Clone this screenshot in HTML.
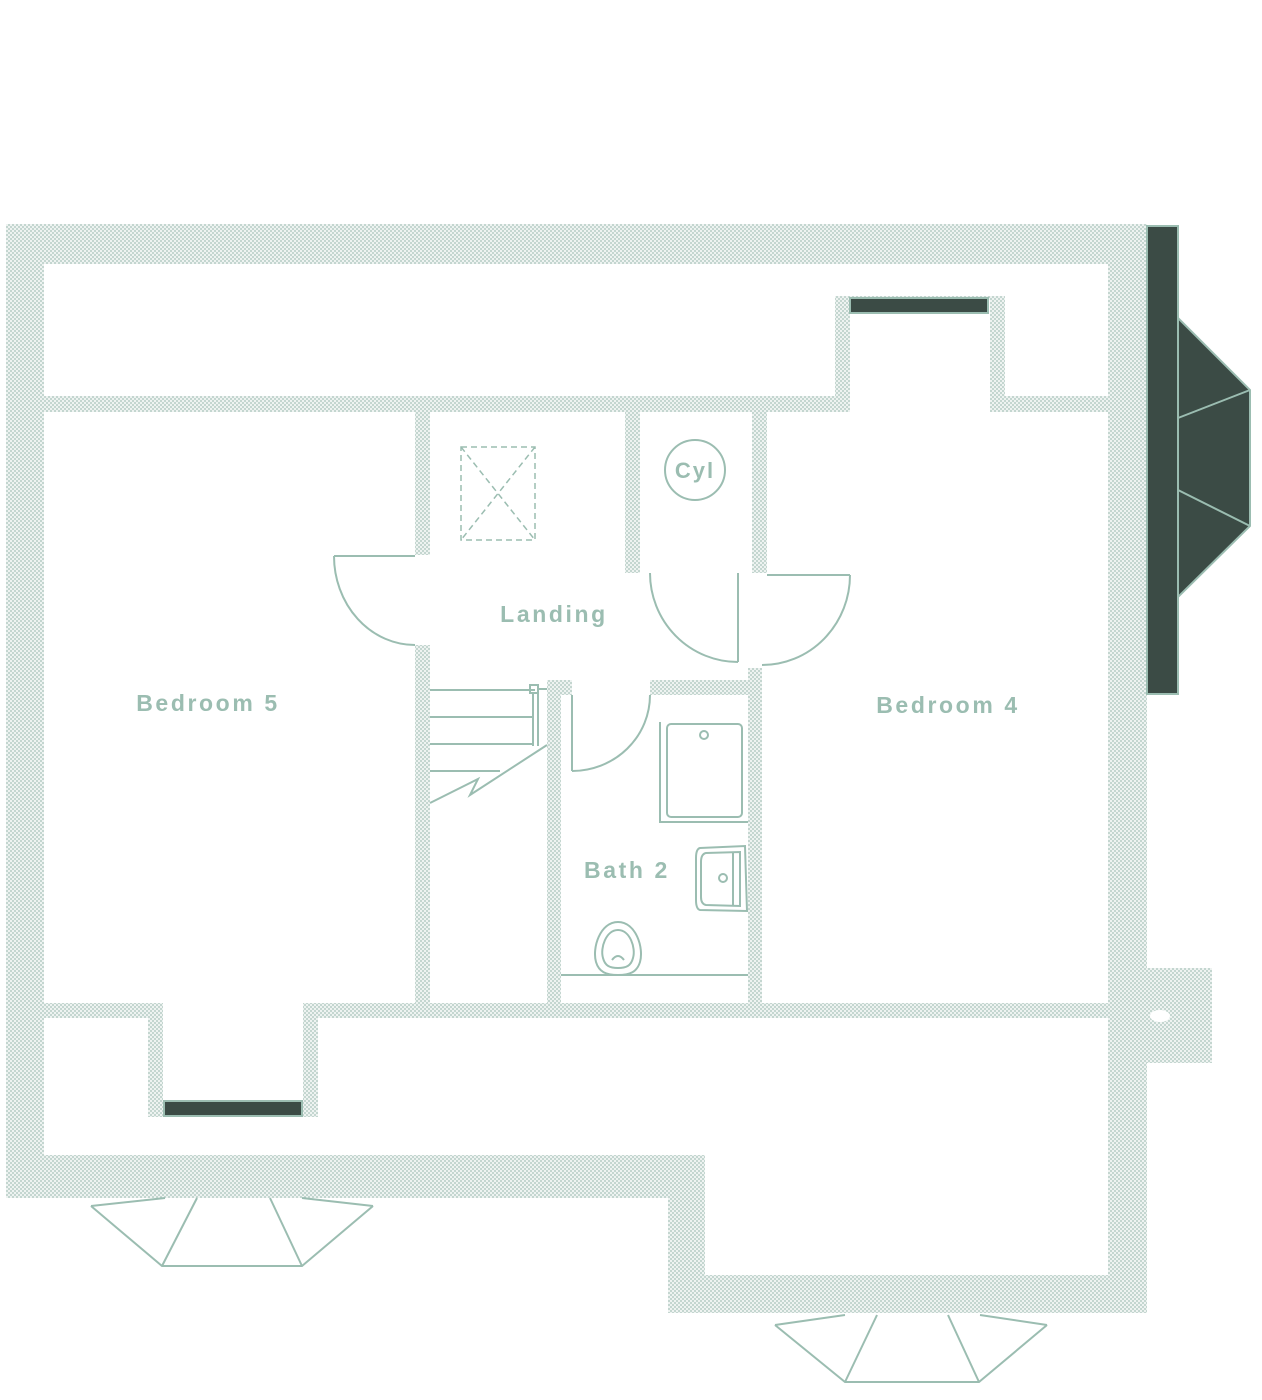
<!DOCTYPE html>
<html><head><meta charset="utf-8"><style>
html,body{margin:0;padding:0;background:#fff;}
svg{display:block}
text{font-family:"Liberation Sans",sans-serif;font-weight:bold;fill:#9bbdb1;font-size:23px;letter-spacing:2.6px;text-anchor:middle}
</style></head><body>
<svg width="1262" height="1400" viewBox="0 0 1262 1400" xmlns="http://www.w3.org/2000/svg">
<defs>
<pattern id="d" width="4" height="4" patternUnits="userSpaceOnUse">
<rect width="4" height="4" fill="#eef3f1"/>
<circle cx="1" cy="1" r="0.9" fill="#a6c2b8"/>
<circle cx="3" cy="3" r="0.9" fill="#a6c2b8"/>
</pattern>
</defs>
<g fill="url(#d)">
<rect x="6" y="224" width="1141" height="40"/>
<rect x="6" y="224" width="38" height="974"/>
<rect x="1108" y="224" width="39" height="1089"/>
<rect x="44" y="396" width="806" height="16"/>
<rect x="835" y="296" width="15" height="116"/>
<rect x="835" y="296" width="170" height="4"/>
<rect x="990" y="296" width="15" height="116"/>
<rect x="990" y="396" width="118" height="16"/>
<rect x="415" y="412" width="15" height="143"/>
<rect x="415" y="645" width="15" height="358"/>
<rect x="625" y="412" width="15" height="161"/>
<rect x="752" y="412" width="15" height="161"/>
<rect x="547" y="680" width="14" height="323"/>
<rect x="547" y="680" width="25" height="15"/>
<rect x="650" y="680" width="112" height="15"/>
<rect x="748" y="668" width="14" height="335"/>
<rect x="44" y="1003" width="119" height="15"/>
<rect x="303" y="1003" width="805" height="15"/>
<rect x="148" y="1003" width="15" height="114"/>
<rect x="303" y="1003" width="15" height="114"/>
<rect x="6" y="1155" width="699" height="43"/>
<rect x="668" y="1155" width="37" height="158"/>
<rect x="668" y="1275" width="479" height="38"/>
<rect x="1147" y="968" width="65" height="95"/>
</g>
<ellipse cx="1160" cy="1016" rx="10" ry="6" fill="#fff"/>
<g fill="#3b4b45" stroke="#9bbdb1" stroke-width="2">
<rect x="850" y="298" width="138" height="15"/>
<rect x="164" y="1101" width="138" height="15"/>
<rect x="1147" y="226" width="31" height="468"/>
<polygon points="1178,318 1250,390 1250,526 1178,597"/>
</g>
<g fill="none" stroke="#9bbdb1" stroke-width="2">
<line x1="1178" y1="418" x2="1250" y2="390"/>
<line x1="1178" y1="490" x2="1250" y2="526"/>
<polyline points="91,1206 162,1266 302,1266 373,1206"/>
<line x1="91" y1="1206" x2="165" y2="1198"/>
<line x1="197" y1="1198" x2="162" y2="1266"/>
<line x1="270" y1="1198" x2="302" y2="1266"/>
<line x1="302" y1="1198" x2="373" y2="1206"/>
<polyline points="775,1325 845,1382 979,1382 1047,1325"/>
<line x1="775" y1="1325" x2="845" y2="1315"/>
<line x1="877" y1="1315" x2="845" y2="1382"/>
<line x1="948" y1="1315" x2="979" y2="1382"/>
<line x1="980" y1="1315" x2="1047" y2="1325"/>
<line x1="334" y1="556" x2="415" y2="556"/>
<path d="M334,556 A81,89 0 0 0 415,645"/>
<line x1="738" y1="573" x2="738" y2="662"/>
<path d="M650,573 A88,89 0 0 0 738,662"/>
<line x1="767" y1="575" x2="850" y2="575"/>
<path d="M850,575 A88,90 0 0 1 762,665"/>
<line x1="572" y1="695" x2="572" y2="771"/>
<path d="M650,695 A78,76 0 0 1 572,771"/>
<line x1="430" y1="690" x2="535" y2="690"/>
<line x1="430" y1="717" x2="533" y2="717"/>
<line x1="430" y1="744" x2="533" y2="744"/>
<line x1="430" y1="771" x2="500" y2="771"/>
<line x1="533" y1="694" x2="533" y2="746"/>
<line x1="538" y1="694" x2="538" y2="746"/>
<rect x="530" y="685" width="8" height="8"/>
<line x1="538" y1="689" x2="547" y2="689"/>
<polyline points="430,803 478,779 470,795 547,745"/>
<g stroke-dasharray="6,4" stroke-width="1.5">
<rect x="461" y="447" width="74" height="93"/>
<line x1="461" y1="447" x2="535" y2="540"/>
<line x1="535" y1="447" x2="461" y2="540"/>
</g>
<circle cx="695" cy="470" r="30"/>
<polyline points="660,722 660,822 748,822"/>
<rect x="667" y="724" width="75" height="93" rx="4"/>
<circle cx="704" cy="735" r="4"/>
<path d="M700,848 L745,846 L747,911 L700,910 Q696,909 696,900 L696,858 Q696,849 700,848 Z"/>
<path d="M706,853 L740,852 L740,906 L706,905 Q701,904 701,897 L701,862 Q701,854 706,853 Z"/>
<line x1="733" y1="852" x2="733" y2="906"/>
<circle cx="723" cy="878" r="4"/>
<path d="M618,922 C600,922 592,948 596,962 C599,972 606,975 618,975 C630,975 637,972 640,962 C644,948 636,922 618,922 Z"/>
<path d="M618,930 C606,930 600,948 603,958 C605,966 610,968 618,968 C626,968 631,966 633,958 C636,948 630,930 618,930 Z"/>
<path d="M612,960 Q618,952 624,960"/>
<line x1="561" y1="975" x2="748" y2="975"/>
</g>
<text x="695" y="478" style="font-size:22px;letter-spacing:2px">Cyl</text>
<text x="554" y="622">Landing</text>
<text x="208" y="711">Bedroom 5</text>
<text x="948" y="713">Bedroom 4</text>
<text x="627" y="878">Bath 2</text>
</svg>
</body></html>
